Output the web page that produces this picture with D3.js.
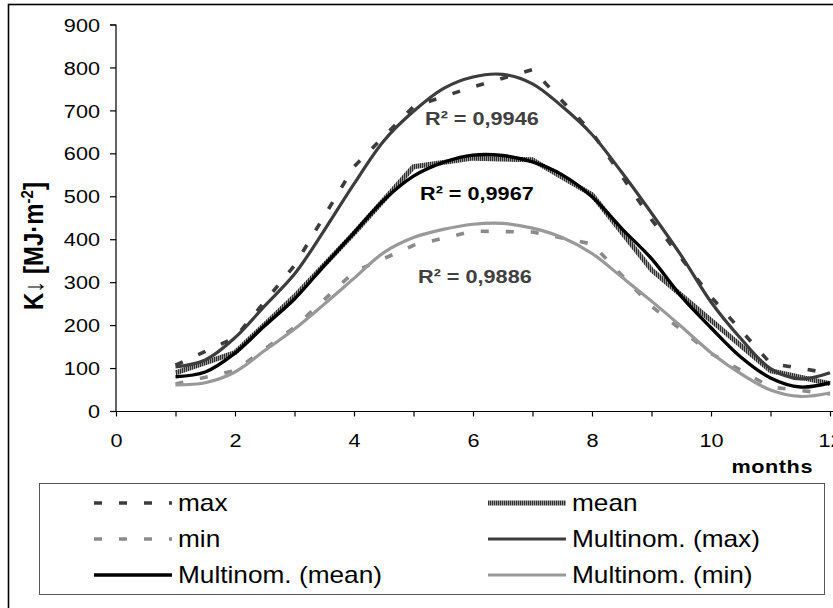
<!DOCTYPE html>
<html><head><meta charset="utf-8">
<script src="https://cdn.jsdelivr.net/npm/d3@7"></script>
<style>
html,body{margin:0;padding:0;background:#fff;}
svg{display:block;font-family:"Liberation Sans",Arial,sans-serif;}
</style></head>
<body>
<svg id="chart" width="833" height="608"></svg>
<script>
// ---- data ----
const months = [1,2,3,4,5,6,7,8,9,10,11,12];
const maxVals  = [108,172,340,570,710,756,796,650,447,267,112,89];
const meanVals = [90,137,268,415,570,590,586,505,330,212,95,65];
const minVals  = [64,95,196,325,387,420,418,390,245,135,57,41];

const trendMonths = [1,1.5,2,2.5,3,3.5,4,4.5,5,5.5,6,6.5,7,7.5,8,8.5,9,9.5,10,10.5,11,11.5,12];
const trendMax  = [104,120,172,246,320,422,530,630,699,752,779,785,763,710,645,557,462,363,255,170,100,76,90];
const trendMean = [81,92,136,200,262,340,416,492,548,580,597,596,581,551,500,426,356,268,195,127,78,57,67];
const trendMin  = [62,67,92,142,192,250,310,370,405,424,436,438,427,405,368,313,257,198,137,88,50,35,43];

const yTicks = [0,100,200,300,400,500,600,700,800,900];
const xTicks = [0,1,2,3,4,5,6,7,8,9,10,11,12];
const xLabelTicks = [0,2,4,6,8,10,12];

const r2Labels = ["R² = 0,9946","R² = 0,9967","R² = 0,9886"];
const legendNames = ["max","mean","min","Multinom. (max)","Multinom. (mean)","Multinom. (min)"];

// ---- drawing ----
const SX = 1.14; // horizontal text stretch seen in the reference
const svg = d3.select("#chart");
const x = d3.scaleLinear().domain([0,12]).range([116,830]);
const y = d3.scaleLinear().domain([0,900]).range([411.5,25]);

// outer border
svg.append("rect").attr("x",8.5).attr("y",4.5).attr("width",900).attr("height",700)
  .attr("fill","none").attr("stroke","#000").attr("stroke-width",1.6);

// hatch pattern for mean
const defs = svg.append("defs");
const pat = defs.append("pattern").attr("id","hatch").attr("patternUnits","userSpaceOnUse")
  .attr("width",2).attr("height",4);
pat.append("rect").attr("width",2).attr("height",4).attr("fill","#9a9a9a");
pat.append("rect").attr("width",1).attr("height",4).attr("fill","#2e2e2e");

// axes
const yAxis = svg.append("g").attr("transform",`translate(${x(0)},0)`)
  .call(d3.axisLeft(y).tickValues(yTicks).tickSize(6).tickFormat(d3.format("d")));
yAxis.selectAll("text").attr("x",0).attr("dy","0.35em")
  .attr("transform",d=>`translate(-16,${y(d)}) scale(${SX},1)`).attr("y",null)
  .style("font-size","19px").attr("fill","#000");
yAxis.selectAll(".tick").attr("transform",null);
yAxis.selectAll(".tick line").attr("y1",d=>y(d)).attr("y2",d=>y(d));

const xAxis = svg.append("g").attr("transform",`translate(0,${y(0)})`)
  .call(d3.axisBottom(x).tickValues(xTicks).tickSize(5)
    .tickFormat(d=>xLabelTicks.includes(d)?d3.format("d")(d):""));
xAxis.selectAll("text").attr("y",0).attr("dy",null)
  .attr("transform",`translate(0,35) scale(${SX},1)`)
  .style("font-size","19px").attr("fill","#000");
[yAxis,xAxis].forEach(g=>{
  g.select(".domain").attr("stroke","#000").attr("stroke-width",1.2);
  g.selectAll(".tick line").attr("stroke","#000").attr("stroke-width",1.2);
});
yAxis.select(".domain").attr("d",`M-6,${y(900)}H0V${y(0)}`);
xAxis.select(".domain").attr("d",`M${x(0)},0H${x(12)+10}`);

// axis titles
const yt = svg.append("text").attr("transform",`translate(43,310) scale(${SX},1) rotate(-90)`)
  .style("font-size","24px").style("font-weight","bold").attr("fill","#000");
yt.append("tspan").text("K↓ [MJ·m");
yt.append("tspan").text("-2").style("font-size","15px").attr("dy","-9");
yt.append("tspan").text("]").attr("dy","9");

svg.append("text").attr("transform",`translate(813,473) scale(${SX},1)`)
  .attr("text-anchor","end").style("font-size","19px").style("font-weight","bold")
  .attr("letter-spacing","0.5").text("months");

// series
const line = d3.line().x(d=>x(d[0])).y(d=>y(d[1]));
const smooth = d3.line().x(d=>x(d[0])).y(d=>y(d[1])).curve(d3.curveCatmullRom.alpha(0.5));
const zip = (a,b)=>a.map((v,i)=>[v,b[i]]);

const styles = {
  max:  {stroke:"#3c3c3c", w:3.6, dash:"8,17"},
  mean: {stroke:"url(#hatch)", w:5, dash:null},
  min:  {stroke:"#8a8a8a", w:3.6, dash:"8,17"},
  tmax: {stroke:"#3c3c3c", w:3.2, dash:null},
  tmean:{stroke:"#000000", w:3.4, dash:null},
  tmin: {stroke:"#999999", w:3.2, dash:null}
};
function draw(gen, data, s){
  svg.append("path").attr("d",gen(data)).attr("fill","none")
    .attr("stroke",s.stroke).attr("stroke-width",s.w)
    .attr("stroke-dasharray",s.dash).attr("stroke-linejoin","round");
}
draw(line, zip(months,maxVals), styles.max);
draw(line, zip(months,meanVals), styles.mean);
draw(line, zip(months,minVals), styles.min);
draw(smooth, zip(trendMonths,trendMax), styles.tmax);
draw(smooth, zip(trendMonths,trendMean), styles.tmean);
draw(smooth, zip(trendMonths,trendMin), styles.tmin);

// R² labels
const r2Pos = [[425,125,"#404040"],[420,200,"#000"],[418,283,"#404040"]];
r2Labels.forEach((t,i)=>{
  svg.append("text").attr("transform",`translate(${r2Pos[i][0]},${r2Pos[i][1]}) scale(${SX},1)`)
    .style("font-size","19px").style("font-weight","bold").attr("fill",r2Pos[i][2]).text(t);
});

// legend
svg.append("rect").attr("x",39.5).attr("y",483.5).attr("width",785).attr("height",111)
  .attr("fill","#fff").attr("stroke","#555").attr("stroke-width",1);
const legStyles = [styles.max,styles.mean,styles.min,styles.tmax,styles.tmean,styles.tmin];
legendNames.forEach((name,i)=>{
  const col = i%2, row = Math.floor(i/2);
  const lx = col===0 ? 94 : 488, ly = 503 + row*36;
  const s = legStyles[i];
  svg.append("path").attr("d",`M${lx},${ly}H${lx+78}`).attr("fill","none")
    .attr("stroke",s.stroke).attr("stroke-width",s.w).attr("stroke-dasharray",s.dash);
  svg.append("text").attr("transform",`translate(${lx+84},${ly+8}) scale(${SX},1)`)
    .style("font-size","23px").attr("fill","#000").text(name);
});
</script>
</body></html>
